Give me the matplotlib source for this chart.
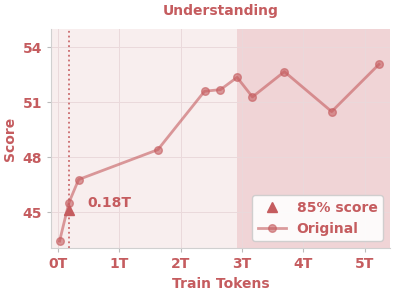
import matplotlib
matplotlib.use("Agg")
import matplotlib.pyplot as plt

tokens = [0.03, 0.18, 0.34, 1.63, 2.39, 2.65, 2.92, 3.17, 3.69, 4.46, 5.23]
scores = [43.42, 45.5, 46.78, 48.41, 51.6, 51.69, 52.36, 51.29, 52.67, 50.49, 53.07]
thr_x = 0.18
thr_y = 45.1
xticks = [0, 1, 2, 3, 4, 5]
xticklabels = ["0T", "1T", "2T", "3T", "4T", "5T"]
yticks = [45, 48, 51, 54]

C = "#c55c5f"
fig = plt.figure(figsize=(3.95, 2.94), dpi=100)
ax = fig.add_axes([51/395, 1-248/294, 339/395, 219/294])
ax.set_xlim(-0.11, 5.41)
ax.set_ylim(43.04, 55.0)
ax.axvspan(-0.11, 2.92, color="#f8eeee", zorder=0, lw=0)
ax.axvspan(2.92, 5.41, color="#f0d4d6", zorder=0, lw=0)
ax.grid(True, color="#ead9db", lw=0.7, zorder=1)
ax.set_axisbelow(True)
ax.plot(tokens, scores, color=C, alpha=0.6, lw=2, marker="o", ms=5.5, zorder=3, label="Original")
ax.plot([thr_x], [thr_y], marker="^", color=C, ms=7, ls="none", zorder=4, label="85% score")
ax.axvline(thr_x, color=C, ls=":", lw=1.3, alpha=0.9, zorder=2)
ax.text(thr_x + 0.3, thr_y + 0.4, "0.18T", color=C, fontsize=10, fontweight="bold", va="center")
ax.set_xticks(xticks)
ax.set_xticklabels(xticklabels)
ax.set_yticks(yticks)
for lab in ax.get_xticklabels() + ax.get_yticklabels():
    lab.set_color(C)
    lab.set_fontweight("bold")
    lab.set_fontsize(10)
ax.tick_params(colors="#bbbbbb", labelcolor=C, length=3)
for s in ["top", "right"]:
    ax.spines[s].set_visible(False)
for s in ["left", "bottom"]:
    ax.spines[s].set_color("#d0d0d0")
ax.set_xlabel("Train Tokens", color=C, fontweight="bold", fontsize=10)
ax.set_ylabel("Score", color=C, fontweight="bold", fontsize=10)
ax.set_title("Understanding", color=C, fontweight="bold", fontsize=10, pad=10)
h, l = ax.get_legend_handles_labels()
leg = ax.legend(h[::-1], l[::-1], loc="lower right", fontsize=10, frameon=True, framealpha=0.9,
                handlelength=2, borderpad=0.4)
for t in leg.get_texts():
    t.set_color(C)
    t.set_fontweight("bold")
fig.savefig("out.png", dpi=100)
